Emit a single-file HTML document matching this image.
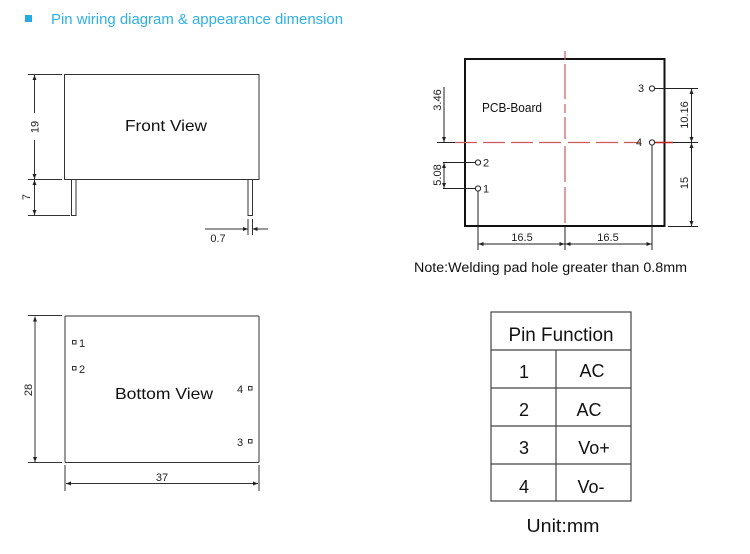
<!DOCTYPE html>
<html><head><meta charset="utf-8"><style>
html,body{margin:0;padding:0;background:#fff;}
svg{display:block;}
text{font-family:"Liberation Sans",Arial,sans-serif;}
</style></head><body>
<svg width="750" height="554" viewBox="0 0 750 554" xmlns="http://www.w3.org/2000/svg">
<defs>
<marker id="a" viewBox="0 0 10 10" refX="10" refY="5" markerWidth="7" markerHeight="5" orient="auto-start-reverse" markerUnits="userSpaceOnUse">
<path d="M0,1 L10,5 L0,9 z" fill="#222"/>
</marker>
</defs>
<rect width="750" height="554" fill="#fff"/>
<!-- Title -->
<rect x="25" y="15" width="7" height="7" fill="#27aae1"/>
<text x="51" y="24" font-size="15" fill="#2db0e6" textLength="292" lengthAdjust="spacingAndGlyphs">Pin wiring diagram &amp; appearance dimension</text>

<!-- FRONT VIEW -->
<g stroke="#333" stroke-width="1" fill="none">
<rect x="64.5" y="74.5" width="194.5" height="105"/>
<rect x="71.5" y="179.5" width="4.5" height="36"/>
<rect x="248" y="179.5" width="4.5" height="36"/>
<line x1="28" y1="74.5" x2="62" y2="74.5"/>
<line x1="28" y1="179.5" x2="62" y2="179.5"/>
<line x1="28" y1="215.5" x2="70" y2="215.5"/>
<line x1="34.5" y1="75" x2="34.5" y2="113" marker-start="url(#a)"/>
<line x1="34.5" y1="140" x2="34.5" y2="179" marker-end="url(#a)"/>
<line x1="34.5" y1="180" x2="34.5" y2="215" marker-start="url(#a)" marker-end="url(#a)"/>
<line x1="205" y1="229" x2="248" y2="229" marker-end="url(#a)"/>
<line x1="252.5" y1="229" x2="268" y2="229" marker-start="url(#a)"/>
<line x1="248" y1="219" x2="248" y2="235"/>
<line x1="252.5" y1="219" x2="252.5" y2="235"/>
</g>
<text x="166" y="131" font-size="16" fill="#111" text-anchor="middle" textLength="82" lengthAdjust="spacingAndGlyphs">Front View</text>
<text transform="translate(38.5,127) rotate(-90)" font-size="11" fill="#222" text-anchor="middle">19</text>
<text transform="translate(30,197) rotate(-90)" font-size="11" fill="#222" text-anchor="middle">7</text>
<text x="218" y="242" font-size="11" fill="#222" text-anchor="middle">0.7</text>

<!-- PCB BOARD -->
<rect x="465" y="59" width="199.5" height="167" fill="none" stroke="#111" stroke-width="2"/>
<g stroke="#c85a5c" stroke-width="1.2" fill="none">
<line x1="455" y1="142.5" x2="562" y2="142.5" stroke-dasharray="22,6"/>
<line x1="568" y1="142.5" x2="640" y2="142.5" stroke-dasharray="22,6"/>
<line x1="565" y1="51" x2="565" y2="139" stroke-dasharray="9,4,35,5"/>
<line x1="565" y1="146" x2="565" y2="226" stroke-dasharray="36,5"/>
<line x1="655" y1="142.5" x2="673" y2="142.5" stroke="#b22" stroke-width="1.5"/>
</g>
<g stroke="#222" stroke-width="1" fill="none">
<line x1="437" y1="142.5" x2="455" y2="142.5"/>
<line x1="443" y1="162.5" x2="475.5" y2="162.5"/>
<line x1="443" y1="188.5" x2="475.5" y2="188.5"/>
<line x1="444" y1="87" x2="444" y2="142" marker-end="url(#a)"/>
<line x1="444" y1="163" x2="444" y2="188" marker-start="url(#a)" marker-end="url(#a)"/>
<line x1="655" y1="88.5" x2="698" y2="88.5"/>
<line x1="673" y1="142.5" x2="698" y2="142.5"/>
<line x1="668" y1="226.5" x2="698" y2="226.5"/>
<line x1="691.5" y1="89" x2="691.5" y2="142" marker-start="url(#a)" marker-end="url(#a)"/>
<line x1="691.5" y1="143" x2="691.5" y2="226" marker-start="url(#a)" marker-end="url(#a)"/>
<line x1="478" y1="191" x2="478" y2="250"/>
<line x1="652" y1="145" x2="652" y2="250"/>
<line x1="565" y1="227" x2="565" y2="250"/>
<line x1="478.5" y1="244" x2="564.5" y2="244" marker-start="url(#a)" marker-end="url(#a)"/>
<line x1="565.5" y1="244" x2="651.5" y2="244" marker-start="url(#a)" marker-end="url(#a)"/>
<circle cx="478" cy="162.5" r="2.6" fill="#fff"/>
<circle cx="478" cy="188.5" r="2.6" fill="#fff"/>
<circle cx="652" cy="88.5" r="2.6" fill="#fff"/>
<circle cx="652" cy="142.5" r="2.6" fill="#fff"/>
</g>
<text x="482" y="112" font-size="13" fill="#111" textLength="60" lengthAdjust="spacingAndGlyphs">PCB-Board</text>
<g font-size="11" fill="#222">
<text x="483" y="166.5">2</text>
<text x="483" y="192.5">1</text>
<text x="638" y="92">3</text>
<text x="636" y="146">4</text>
<text x="522" y="241" text-anchor="middle">16.5</text>
<text x="608" y="241" text-anchor="middle">16.5</text>
<text transform="translate(441,100) rotate(-90)" text-anchor="middle">3.46</text>
<text transform="translate(441,175) rotate(-90)" text-anchor="middle">5.08</text>
<text transform="translate(688,115) rotate(-90)" text-anchor="middle">10.16</text>
<text transform="translate(688,183) rotate(-90)" text-anchor="middle">15</text>
</g>
<text x="414" y="272" font-size="13.5" fill="#111" textLength="273" lengthAdjust="spacingAndGlyphs">Note:Welding pad hole greater than 0.8mm</text>

<!-- BOTTOM VIEW -->
<g stroke="#333" stroke-width="1" fill="none">
<rect x="65" y="316" width="194" height="146.5" rx="1"/>
<line x1="28" y1="315.5" x2="62" y2="315.5"/>
<line x1="28" y1="462.5" x2="62" y2="462.5"/>
<line x1="35" y1="316.5" x2="35" y2="462" marker-start="url(#a)" marker-end="url(#a)"/>
<line x1="65" y1="465" x2="65" y2="491"/>
<line x1="259" y1="465" x2="259" y2="491"/>
<line x1="66" y1="483.5" x2="258" y2="483.5" marker-start="url(#a)" marker-end="url(#a)"/>
<rect x="72.5" y="340.5" width="3.5" height="3.5"/>
<rect x="72.5" y="366.5" width="3.5" height="3.5"/>
<rect x="248.5" y="386.5" width="3.5" height="3.5"/>
<rect x="248.5" y="439.5" width="3.5" height="3.5"/>
</g>
<g font-size="11" fill="#222">
<text x="79" y="347">1</text>
<text x="79" y="373">2</text>
<text x="237" y="393">4</text>
<text x="237" y="446">3</text>
<text x="162" y="481" text-anchor="middle">37</text>
<text transform="translate(32,390) rotate(-90)" text-anchor="middle">28</text>
</g>
<text x="164" y="399" font-size="16" fill="#111" text-anchor="middle" textLength="98" lengthAdjust="spacingAndGlyphs">Bottom View</text>

<!-- TABLE -->
<g stroke="#444" stroke-width="1.2" fill="none">
<rect x="491" y="312" width="140" height="189"/>
<line x1="491" y1="350" x2="631" y2="350"/>
<line x1="491" y1="388" x2="631" y2="388"/>
<line x1="491" y1="426" x2="631" y2="426"/>
<line x1="491" y1="464" x2="631" y2="464"/>
<line x1="556" y1="350" x2="556" y2="501"/>
</g>
<g fill="#111" text-anchor="middle">
<text x="561" y="341" font-size="19" textLength="105" lengthAdjust="spacingAndGlyphs">Pin Function</text>
<text x="524" y="378" font-size="18">1</text>
<text x="592" y="377" font-size="18">AC</text>
<text x="524" y="416" font-size="18">2</text>
<text x="589" y="416" font-size="18">AC</text>
<text x="524" y="454" font-size="18">3</text>
<text x="594" y="454" font-size="18">Vo+</text>
<text x="524" y="493" font-size="18">4</text>
<text x="591" y="493" font-size="18">Vo-</text>
<text x="563" y="532" font-size="18" textLength="73" lengthAdjust="spacingAndGlyphs">Unit:mm</text>
</g>
</svg>
</body></html>
